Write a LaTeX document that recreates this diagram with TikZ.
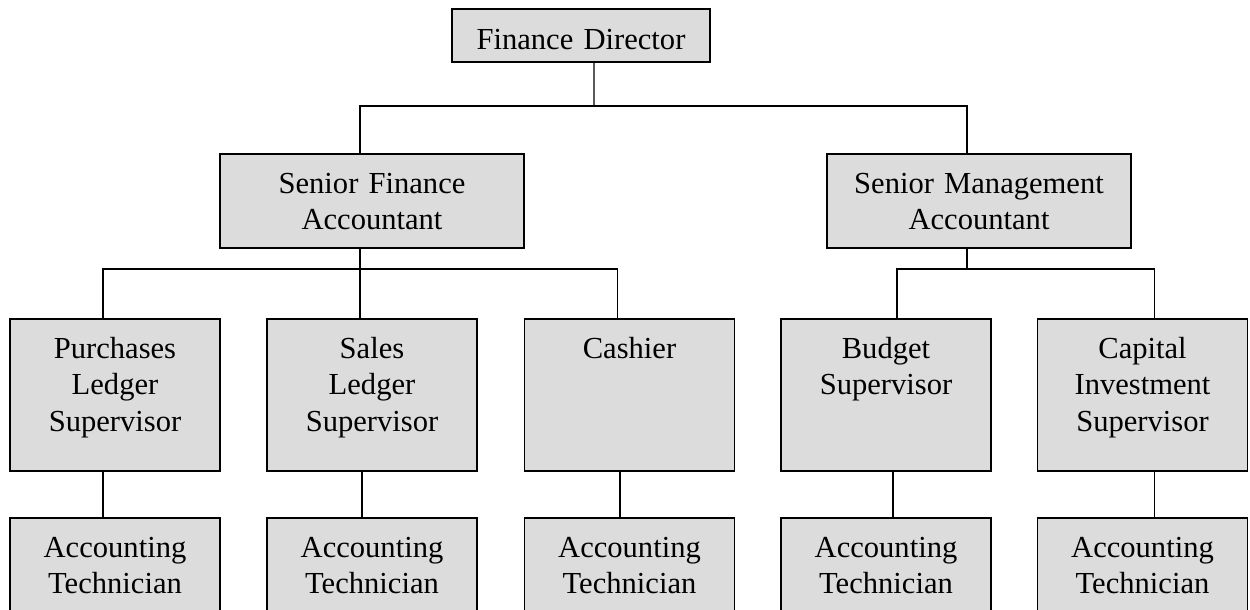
\documentclass[tikz,border=0pt]{standalone}
\usepackage{fontspec}
\setmainfont{Liberation Serif}
\usepackage{xcolor}
\usepackage{tikz}
\definecolor{boxgray}{RGB}{220,220,220}

\begin{document}
\begin{tikzpicture}[
    unit/.style={rectangle, draw, line width=1.1pt, fill=boxgray, anchor=north, inner sep=0pt, text width=4.2cm, align=center, text height=0.8cm, text depth=2.24cm, font=\fontsize{17.4}{20.5}\selectfont},
    dirbox/.style={unit, text width=5.16cm, text height=0.82cm, text depth=0.24cm},
    headbox/.style={unit, text width=6.08cm, text depth=1.08cm},
    techbox/.style={unit, text depth=1.6cm},
    link/.style={line width=0.6pt}
]
\useasboundingbox (0,0) rectangle (25,-12.18);
\clip (0,0) rectangle (25,-12.18);

\node[dirbox] (fd) at (11.62,-0.16) {Finance Director};
\node[headbox] (sf) at (7.44,-3.06) {Senior Finance\\Accountant};
\node[headbox] (sm) at (19.58,-3.06) {Senior Management\\Accountant};

\node[unit] (pur) at (2.30,-6.36) {Purchases\\Ledger\\Supervisor};
\node[unit] (sal) at (7.44,-6.36) {Sales\\Ledger\\Supervisor};
\node[unit] (cash) at (12.59,-6.36) {Cashier};
\node[unit] (bud) at (17.72,-6.36) {Budget\\Supervisor};
\node[unit] (cap) at (22.85,-6.36) {Capital\\Investment\\Supervisor};
\foreach \n/\x in {pur/2.30,sal/7.44,cash/12.59,bud/17.72,cap/22.85}{\node[techbox] (t\n) at (\x,-10.34) {Accounting\\Technician};}

\coordinate (j1) at (11.88,-2.12);
\draw[link] ([xshift=0.26cm]fd.south) -- (j1);
\draw[link] ([xshift=-0.24cm]sf.north) |- (j1) -| ([xshift=-0.24cm]sm.north);

\coordinate (j2) at (7.20,-5.38);
\draw[link] ([xshift=-0.24cm]sf.south) -- ([xshift=-0.24cm]sal.north);
\draw[link] ([xshift=-0.24cm]pur.north) |- (j2) -| ([xshift=-0.24cm]cash.north);

\coordinate (j3) at (19.34,-5.38);
\draw[link] ([xshift=-0.24cm]sm.south) -- (j3);
\draw[link] ([xshift=0.22cm]bud.north) |- (j3) -| ([xshift=0.24cm]cap.north);

\foreach \n/\s in {pur/-0.24,sal/-0.2,cash/-0.19,bud/0.14,cap/0.24}{\draw[link] ([xshift=\s cm]\n.south) -- ([xshift=\s cm]t\n.north);}
\end{tikzpicture}
\end{document}
